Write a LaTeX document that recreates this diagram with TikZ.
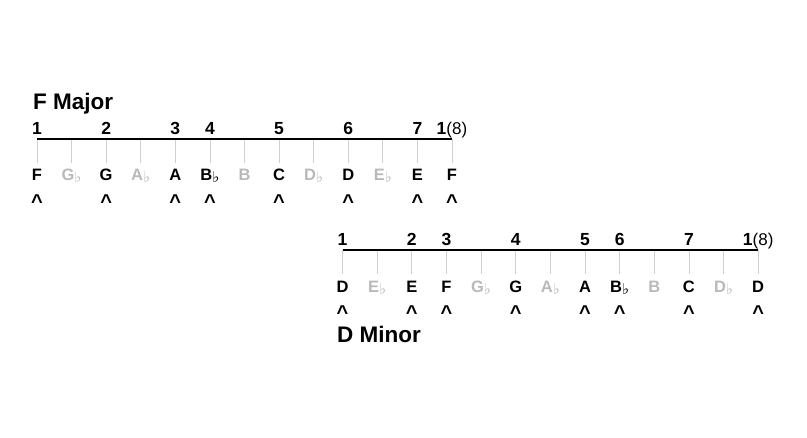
\documentclass[tikz,border=0pt]{standalone}
\usepackage{fontspec}
\setmainfont{Liberation Sans}
\newfontfamily\flatfont{DejaVu Sans}
\usepackage{xcolor}
\usepackage{tikz}
\usetikzlibrary{positioning}

\definecolor{offgrey}{RGB}{185,185,185}
\definecolor{tickgrey}{RGB}{208,208,208}
\newcommand{\flatsign}{{\flatfont\fontsize{15}{15}\selectfont\raisebox{-1.5pt}{♭}}}

\begin{document}
\begin{tikzpicture}[
            x=1pt, y=-1pt,
            title/.style={anchor=base west, inner sep=0pt, text height=16.5pt, text depth=4pt, font=\fontsize{22.5}{26}\selectfont\bfseries},
            degree/.style={anchor=base, inner sep=0pt, font=\fontsize{17.5}{20}\selectfont\bfseries},
            keynote/.style={anchor=base, inner sep=0pt, font=\fontsize{16.5}{19}\selectfont\bfseries},
            offnote/.style={keynote, text=offgrey},
            caret/.style={anchor=base, inner sep=0pt, text height=15pt, text depth=0pt, font=\fontsize{20}{22}\selectfont\bfseries},
            staff/.style={line width=1.2pt},
            tick/.style={tickgrey, line width=0.8pt}
        ]
            \useasboundingbox (0,0) rectangle (807,438);

            % F major
            \node[title] (fmaj) at (33,110) {F Major};
            \foreach \i/\n/\s in {0/F/keynote,1/G\flatsign/offnote,2/G/keynote,3/A\flatsign/offnote,
                                  4/A/keynote,5/B\flatsign/keynote,6/B/offnote,7/C/keynote,
                                  8/D\flatsign/offnote,9/D/keynote,10/E\flatsign/offnote,11/E/keynote,12/F/keynote} {
                \coordinate (ft\i) at (37+34.58*\i,139);
                \coordinate (fb\i) at (37+34.58*\i,163);
                \draw[tick] (ft\i) -- (fb\i);
                \node[\s] (fn\i) at (37+34.58*\i,181) {\n};
            }
            \draw[staff] (ft0) -- (ft12);
            \foreach \i/\d in {0/1,2/2,4/3,5/4,7/5,9/6,11/7,12/{1{\mdseries\fontsize{17}{19}\selectfont(8)}}} {
                \node[degree] (fd\i) at (37+34.58*\i,135) {\d};
                \node[caret] (fc\i) at (37+34.58*\i,209) {\textasciicircum};
            }

            % D minor
            \node[title] (dmin) at (337,343) {D Minor};
            \foreach \i/\n/\s in {0/D/keynote,1/E\flatsign/offnote,2/E/keynote,3/F/keynote,
                                  4/G\flatsign/offnote,5/G/keynote,6/A\flatsign/offnote,7/A/keynote,
                                  8/B\flatsign/keynote,9/B/offnote,10/C/keynote,11/D\flatsign/offnote,12/D/keynote} {
                \coordinate (dt\i) at (342.5+34.64*\i,250);
                \coordinate (db\i) at (342.5+34.64*\i,274);
                \draw[tick] (dt\i) -- (db\i);
                \node[\s] (dn\i) at (342.5+34.64*\i,293) {\n};
            }
            \draw[staff] (dt0) -- (dt12);
            \foreach \i/\d in {0/1,2/2,3/3,5/4,7/5,8/6,10/7,12/{1{\mdseries\fontsize{17}{19}\selectfont(8)}}} {
                \node[degree] (dd\i) at (342.5+34.64*\i,246) {\d};
                \node[caret] (dc\i) at (342.5+34.64*\i,320) {\textasciicircum};
            }
        \end{tikzpicture}
\end{document}
